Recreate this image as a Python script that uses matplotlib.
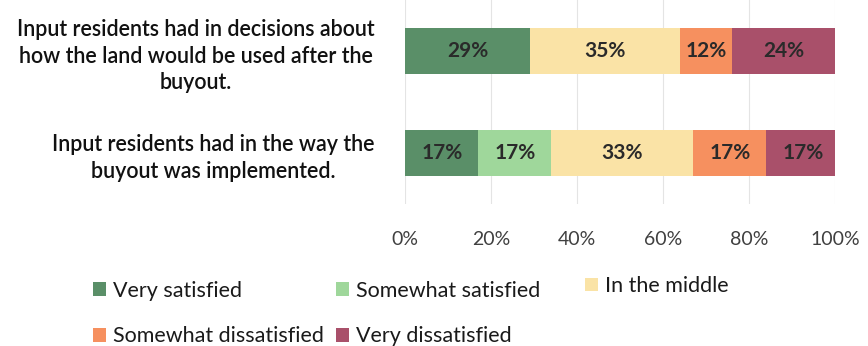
import matplotlib.pyplot as plt
import numpy as np

plt.rcParams['font.family'] = ['Lato', 'DejaVu Sans']

questions = [
    "Input residents had in decisions about\nhow the land would be used after the\nbuyout.",
    "Input residents had in the way the\nbuyout was implemented.",
]
categories = ["Very satisfied", "Somewhat satisfied", "In the middle",
              "Somewhat dissatisfied", "Very dissatisfied"]
colors = ["#5a8f68", "#9fd79b", "#fae3a6", "#f6905f", "#a9506a"]

# share of residents (%) per category, one list per question
very_sat = [29, 17]
somewhat_sat = [0, 17]
middle = [35, 33]
somewhat_dis = [12, 17]
very_dis = [24, 17]
series = [very_sat, somewhat_sat, middle, somewhat_dis, very_dis]

fig = plt.figure(figsize=(8.68, 3.46), dpi=100)
ax = fig.add_axes([0.467, 0.41, 0.495, 0.59])

y = np.array([1, 0])
left = np.zeros(len(questions))
bars = []
for name, vals, col in zip(categories, series, colors):
    vals = np.array(vals, dtype=float)
    b = ax.barh(y, vals / 100, left=left / 100, height=0.45, color=col, label=name)
    bars.append(b)
    for yi, v, l in zip(y, vals, left):
        if v > 0:
            ax.text((l + v / 2) / 100, yi, f"{v:.0f}%", ha='center', va='center',
                    fontsize=15, fontweight='bold', color='#2a2a2a')
    left += vals

ax.set_xlim(0, 1)
ax.set_ylim(-0.5, 1.5)
ax.set_xticks(np.linspace(0, 1, 6))
ax.set_xticklabels([f"{int(t)}%" for t in np.linspace(0, 100, 6)], fontsize=14, color='#404040')
ax.set_yticks(y)
ax.set_yticklabels(questions, fontsize=15.5, fontweight='semibold', color='#111111',
                   multialignment='center', linespacing=1.35)
ax.tick_params(axis='both', length=0)
ax.tick_params(axis='x', pad=19)
ax.tick_params(axis='y', pad=22)
ax.grid(axis='x', color='#e4e4e4', linewidth=0.8)
ax.set_axisbelow(True)
for s in ax.spines.values():
    s.set_visible(False)

leg_kw = dict(loc='upper left', frameon=False, fontsize=15.5, handlelength=0.6,
              handleheight=0.6, handletextpad=0.3, columnspacing=0.6,
              labelspacing=1.2, labelcolor='#1a1a1a')
# first two columns filled row by row, "In the middle" on its own
order = [0, 3, 1, 4]
fig.legend([bars[i] for i in order], [categories[i] for i in order], ncol=2,
           bbox_to_anchor=(0.085, 0.245), **leg_kw)
fig.legend([bars[2]], [categories[2]], ncol=1,
           bbox_to_anchor=(0.652, 0.258), **leg_kw)

fig.savefig("out.png", dpi=100)
